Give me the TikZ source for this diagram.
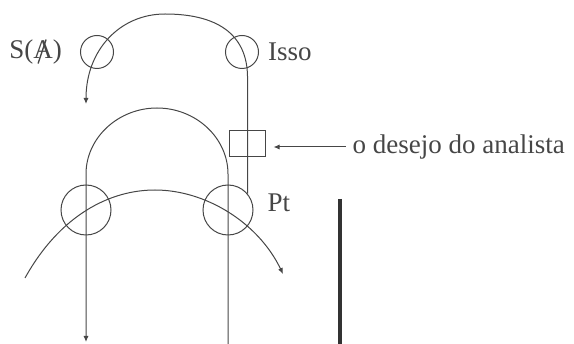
\documentclass[tikz,border=0pt]{standalone}
\usepackage{fontspec}
\setmainfont{Liberation Serif}
\usepackage{tikz}
\usetikzlibrary{
  arrows.meta,
  positioning
}
\definecolor{knotgray}{RGB}{70,70,70}
\definecolor{bargray}{RGB}{50,50,50}
\tikzset{
  knotSmall/.style={
    circle,
    draw=knotgray,
    line width=1pt,
    inner sep=0pt,
    minimum size=33pt
  },
  knotRing/.style={
    circle,
    draw=knotgray,
    line width=1pt,
    inner sep=0pt,
    minimum size=50pt
  },
  knotBox/.style={
    rectangle,
    draw=knotgray,
    line width=1pt,
    inner sep=0pt,
    minimum width=36pt,
    minimum height=26pt
  },
  knotLabel/.style={
    inner sep=0pt,
    text=knotgray,
    font=\fontsize{27}{30}\selectfont
  },
  knotLine/.style={
    line width=1pt,
    draw=knotgray
  },
  knotArrow/.style={
    -{Latex[length=6pt,width=5pt]},
    line width=1pt,
    draw=knotgray
  }
}

\begin{document}
\begin{tikzpicture}[x=1pt, y=-1pt]
  \useasboundingbox (0,0) rectangle (574,344);

  \node[knotSmall] (sA) at (97,52) {};
  \node[knotSmall] (isso) at (242,52) {};
  \node[knotRing] (lhs) at (86,210) {};
  \node[knotRing] (pt) at (228,210) {};
  \node[knotBox] (box) at (247,144) {};

  \node[knotLabel, left=18pt of sA] (sAlabel) {S(A)};
  \node[knotLabel, right=9pt of isso] (issoLabel) {Isso};
  \node[knotLabel, right=14pt of pt, yshift=7pt] (ptLabel) {Pt};
  \node[knotLabel, right=87pt of box, yshift=-3pt] (desire) {o desejo do analista};

  % bar through the A
  \draw[line width=1.3pt, knotgray]
    ([xshift=29pt, yshift=-5pt]sAlabel.base west) -- ([xshift=37pt, yshift=19pt]sAlabel.base west);

  \coordinate (sAend) at (86,104);
  \coordinate (lEnd) at (86,342);
  \coordinate (rEnd) at (228,344);
  \coordinate (arcStart) at (25,278);
  \coordinate (arcEnd) at (283,274);

  % upper loop, through Isso and S(A)
  \draw[knotArrow] (pt.40) -- ++(0,-116)
    .. controls ++(0,-45) and (215,14) .. (165,14)
    .. controls (120,14) and (86,50) .. (sAend);

  % the arch
  \draw[knotArrow] (rEnd) -- ++(0,-170)
    .. controls ++(0,-36) and (196,108) .. (157,108)
    .. controls (118,108) and (86,138) .. (86,174) -- (lEnd);

  % lower arc
  \draw[knotArrow] (arcStart) .. controls (60,215) and (110,190) .. (155,190)
    .. controls (205,190) and (258,222) .. (arcEnd);

  \draw[knotArrow, shorten <=7pt, shorten >=8pt] (desire.west) -- (desire.west -| box.east);

  \draw[line width=4pt, bargray] (340,199) -- (340,344);
\end{tikzpicture}
\end{document}
